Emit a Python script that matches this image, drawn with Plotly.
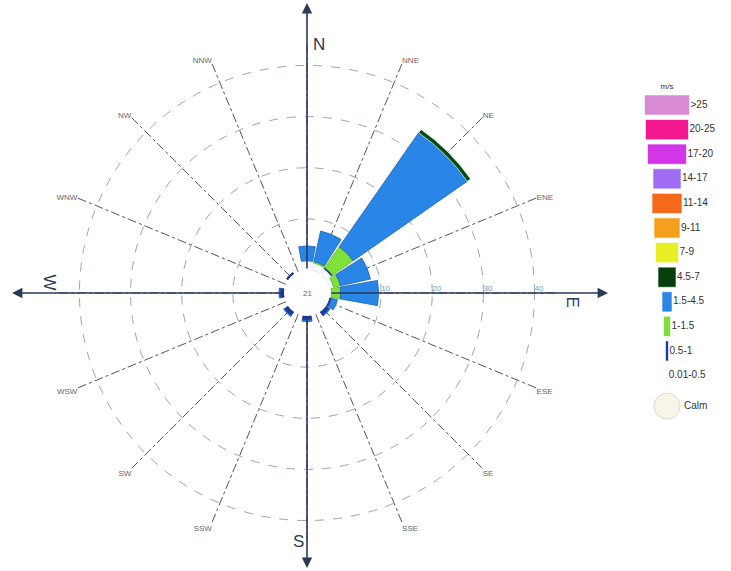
import plotly.graph_objects as go

# ---------------- data ----------------
directions = ["N", "NNE", "NE", "ENE", "E", "ESE", "SE", "SSE",
              "S", "SSW", "SW", "WSW", "W", "WNW", "NW", "NNW"]
dir_labels = ["", "NNE", "NE", "ENE", "", "ESE", "SE", "SSE",
              "", "SSW", "SW", "WSW", "", "WNW", "NW", "NNW"]

# frequency (%) per speed bin, stacked from inside to outside
f_001_05 = [1.8, 1.5, 1.3, 0.8, 0.3, 0.0, 0.0, 0.0, 0.0, 0.0, 0.0, 0.0, 0.0, 0.0, 0.0, 0.0]
f_05_1   = [0.0, 0.0, 0.3, 0.0, 0.0, 0.4, 0.8, 0.0, 0.8, 0.0, 0.9, 0.0, 0.8, 0.0, 0.4, 0.0]
f_1_15   = [0.0, 0.3, 4.9, 1.4, 1.8, 0.0, 0.0, 0.0, 0.0, 0.0, 0.0, 0.0, 0.0, 0.0, 0.0, 0.0]
f_15_45  = [2.9, 6.1, 27.2, 6.0, 7.4, 1.2, 0.2, 0.0, 0.3, 0.0, 0.2, 0.0, 0.2, 0.0, 0.0, 0.0]
f_45_7   = [0.0, 0.0, 0.8, 0.0, 0.0, 0.0, 0.0, 0.0, 0.0, 0.0, 0.0, 0.0, 0.0, 0.0, 0.0, 0.0]
calm_pct = "21"

radial_ticks = [10, 20, 30, 40]

legend_labels = [">25", "20-25", "17-20", "14-17", "11-14", "9-11", "7-9",
                 "4.5-7", "1.5-4.5", "1-1.5", "0.5-1", "0.01-0.5"]
legend_colors = ["#d88bd2", "#f2178c", "#d236e6", "#a06cf0", "#f4691c", "#f5a01c",
                 "#e8ef22", "#083d0c", "#2a86e6", "#80e03a", "#1b3c9c", "#eef2fa"]
legend_widths = [45, 43, 39, 28, 30, 26, 23, 18, 10, 7, 3, 1.5]

# ---------------- figure ----------------
fig = go.Figure()

series = [
    ("0.01-0.5", f_001_05, "#f6f8ff", "#e8edf6"),
    ("0.5-1", f_05_1, "#1b3c9c", "#142c74"),
    ("1-1.5", f_1_15, "#80e03a", "#5cb82a"),
    ("1.5-4.5", f_15_45, "#2a86e6", "#1a62b8"),
    ("4.5-7", f_45_7, "#0c4a10", "#bfe8f0"),
]
for name, vals, col, lc in series:
    fig.add_trace(go.Barpolar(
        r=[v if v > 0 else None for v in vals], theta=directions, name=name,
        width=0.9,
        marker=dict(color=col, line=dict(color=lc, width=0.8)),
        showlegend=False, hoverinfo="skip",
    ))

# radial value labels placed just outside each ring along the east line
fig.add_trace(go.Scatterpolar(
    r=radial_ticks, theta=["E"] * len(radial_ticks), mode="text",
    text=[str(t) for t in radial_ticks], textposition="top right",
    textfont=dict(size=8, color="#6f9bd0"), showlegend=False, hoverinfo="skip",
))

W, H = 731, 571
cx, cy, R = 307, 293, 248
hole_px = 23
dom_x = [(cx - R) / W, (cx + R) / W]
dom_y = [(H - cy - R) / H, (H - cy + R) / H]

fig.update_layout(
    width=W, height=H,
    margin=dict(l=0, r=0, t=0, b=0),
    paper_bgcolor="white",
    plot_bgcolor="white",
    font=dict(family="Liberation Sans, Arial, sans-serif"),
    polar=dict(
        domain=dict(x=dom_x, y=dom_y),
        bgcolor="white",
        hole=hole_px / R,
        barmode="stack",
        radialaxis=dict(
            range=[0, 44], tickvals=radial_ticks,
            angle=0, showline=False, ticks="", showticklabels=False,
            gridcolor="#9aa6b2", griddash="dash", gridwidth=1,
        ),
        angularaxis=dict(
            rotation=90, direction="clockwise",
            tickmode="array", tickvals=directions, ticktext=dir_labels,
            showline=False, ticks="",
            tickfont=dict(size=8, color="#666666"),
            gridcolor="#555555", griddash="dashdot", gridwidth=1,
        ),
    ),
    xaxis=dict(domain=[636 / W, 1.0], range=[-31, 64], visible=False, fixedrange=True),
    yaxis=dict(domain=[0, 1], range=[(H - 105) / 24.6, -105 / 24.6],
               visible=False, fixedrange=True),
)

# ---------------- custom speed legend ----------------
idx = list(range(len(legend_labels)))
fig.add_trace(go.Bar(
    y=idx, x=legend_widths, base=[-w / 2 for w in legend_widths],
    orientation="h", width=0.82,
    marker=dict(color=legend_colors, line=dict(color="rgba(255,255,255,0.6)", width=1)),
    showlegend=False, hoverinfo="skip", xaxis="x", yaxis="y",
))
fig.add_trace(go.Scatter(
    x=[w / 2 + 1 for w in legend_widths], y=idx, mode="text",
    text=legend_labels, textposition="middle right",
    textfont=dict(size=10, color="#333333"),
    showlegend=False, hoverinfo="skip",
))
calm_i = 12.24
fig.add_trace(go.Scatter(
    x=[0], y=[calm_i], mode="markers",
    marker=dict(size=26, color="#f6f5e8", line=dict(color="#dcdccc", width=1)),
    showlegend=False, hoverinfo="skip",
))
fig.add_trace(go.Scatter(
    x=[17], y=[calm_i], mode="text", text=["Calm"], textposition="middle right",
    textfont=dict(size=10, color="#333333"), showlegend=False, hoverinfo="skip",
))
fig.add_trace(go.Scatter(
    x=[0], y=[-0.75], mode="text", text=["m/s"], textposition="middle center",
    textfont=dict(size=8, color="#333333"), showlegend=False, hoverinfo="skip",
))

# ---------------- compass arrows and labels ----------------
pcx, pcy = cx / W, 1 - cy / H
arrow_col = "#2b3a55"
ends = {"N": (307, 3, 0, -1), "S": (307, 568, 0, 1),
        "W": (12, 293, -1, 0), "E": (608, 293, 1, 0)}
for k, (ex, ey, ux, uy) in ends.items():
    tx, ty = cx + ux * hole_px, cy + uy * hole_px
    fig.add_annotation(
        x=ex / W, y=1 - ey / H, xref="paper", yref="paper",
        ax=tx - ex, ay=ty - ey, axref="pixel", ayref="pixel",
        text="", showarrow=True, arrowhead=2, arrowsize=1.3,
        arrowwidth=1.6, arrowcolor=arrow_col,
    )
fig.add_annotation(x=319 / W, y=1 - 33 / H, xref="paper", yref="paper", text="N",
                   showarrow=False, font=dict(size=17, color=arrow_col))
fig.add_annotation(x=298 / W, y=1 - 553 / H, xref="paper", yref="paper", text="S",
                   showarrow=False, font=dict(size=17, color=arrow_col))
fig.add_annotation(x=38 / W, y=1 - 282 / H, xref="paper", yref="paper", text="W",
                   showarrow=False, textangle=90, font=dict(size=17, color=arrow_col))
fig.add_annotation(x=584 / W, y=1 - 302 / H, xref="paper", yref="paper", text="E",
                   showarrow=False, textangle=90, font=dict(size=17, color=arrow_col))
fig.add_annotation(x=pcx, y=pcy, xref="paper", yref="paper", text=calm_pct,
                   showarrow=False, font=dict(size=8, color="#666666"))

fig.write_html("out.html")
